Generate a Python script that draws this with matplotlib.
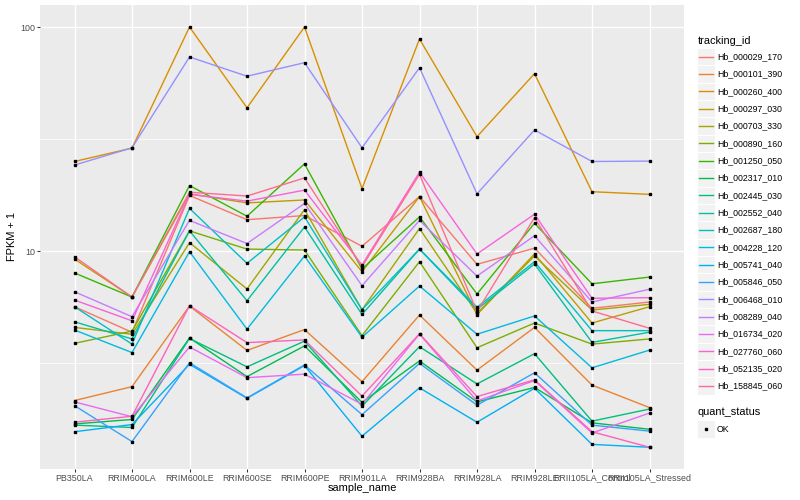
import matplotlib
matplotlib.use("Agg")
import matplotlib.pyplot as plt
from matplotlib.lines import Line2D
from matplotlib.patches import Rectangle
from matplotlib.ticker import NullFormatter
import numpy as np

plt.rcParams['font.family'] = ['Liberation Sans', 'DejaVu Sans']

samples = ["PB350LA", "RRIM600LA", "RRIM600LE", "RRIM600SE", "RRIM600PE",
           "RRIM901LA", "RRIM928BA", "RRIM928LA", "RRIM928LE",
           "RRII105LA_Control", "RRII105LA_Stressed"]

tracking_ids = ["Hb_000029_170", "Hb_000101_390", "Hb_000260_400", "Hb_000297_030",
                "Hb_000703_330", "Hb_000890_160", "Hb_001250_050", "Hb_002317_010",
                "Hb_002445_030", "Hb_002552_040", "Hb_002687_180", "Hb_004228_120",
                "Hb_005741_040", "Hb_005846_050", "Hb_006468_010", "Hb_008289_040",
                "Hb_016734_020", "Hb_027760_060", "Hb_052135_020", "Hb_158845_060"]

# FPKM + 1 values, one list per gene (order = samples)
hb_000029_170 = [5.64, 4.34, 17.7, 13.8, 14.4, 10.5, 17.5, 8.72, 10.3, 5.55, 5.92]
hb_000101_390 = [2.15, 2.48, 5.68, 3.60, 4.46, 2.61, 5.18, 2.94, 4.56, 2.52, 2.00]
hb_000260_400 = [25.1, 28.8, 100.0, 43.6, 100.0, 19.0, 88.4, 32.4, 61.9, 18.4, 17.9]
hb_000297_030 = [9.21, 6.23, 18.0, 16.4, 16.9, 8.08, 17.5, 5.20, 9.70, 4.77, 5.64]
hb_000703_330 = [4.56, 4.25, 10.9, 6.77, 15.3, 5.47, 12.6, 5.27, 9.50, 5.45, 5.78]
hb_000890_160 = [3.87, 4.39, 12.3, 10.2, 10.1, 4.19, 8.96, 3.70, 4.77, 3.84, 4.05]
hb_001250_050 = [7.98, 6.23, 19.6, 14.3, 24.5, 8.31, 14.2, 6.43, 13.3, 7.14, 7.65]
hb_002317_010 = [1.69, 1.77, 4.09, 2.75, 3.77, 2.11, 3.23, 2.12, 2.46, 1.71, 1.60]
hb_002445_030 = [1.67, 1.63, 4.07, 3.04, 3.96, 2.03, 3.74, 2.55, 3.48, 1.74, 1.97]
hb_002552_040 = [4.83, 4.05, 12.3, 6.00, 12.8, 5.21, 10.2, 5.49, 8.75, 3.91, 4.34]
hb_002687_180 = [5.64, 3.84, 15.5, 8.81, 14.2, 5.47, 10.2, 5.61, 8.96, 4.41, 4.41]
hb_004228_120 = [4.44, 3.52, 9.93, 4.48, 9.50, 4.12, 6.98, 4.25, 5.13, 3.01, 3.61]
hb_005741_040 = [1.56, 1.68, 3.12, 2.20, 3.08, 1.49, 2.45, 1.72, 2.44, 1.37, 1.33]
hb_005846_050 = [2.04, 1.41, 3.17, 2.21, 3.10, 1.86, 3.15, 2.05, 2.86, 1.67, 1.57]
hb_006468_010 = [24.2, 28.9, 73.5, 60.3, 69.3, 28.9, 65.8, 18.0, 34.7, 25.1, 25.2]
hb_008289_040 = [6.58, 5.09, 13.7, 10.8, 16.3, 7.00, 13.7, 7.73, 11.7, 5.92, 6.75]
hb_016734_020 = [2.12, 1.82, 3.73, 2.72, 2.82, 2.07, 4.26, 2.14, 2.64, 1.54, 1.89]
hb_027760_060 = [6.04, 4.88, 17.9, 16.7, 18.7, 8.66, 22.5, 9.70, 14.6, 6.15, 6.19]
hb_052135_020 = [1.72, 1.83, 5.70, 3.90, 4.01, 2.25, 4.27, 2.24, 2.66, 1.56, 1.33]
hb_158845_060 = [9.43, 6.23, 18.3, 17.6, 21.2, 8.51, 22.0, 5.36, 14.1, 5.40, 4.52]

series = [hb_000029_170, hb_000101_390, hb_000260_400, hb_000297_030, hb_000703_330,
          hb_000890_160, hb_001250_050, hb_002317_010, hb_002445_030, hb_002552_040,
          hb_002687_180, hb_004228_120, hb_005741_040, hb_005846_050, hb_006468_010,
          hb_008289_040, hb_016734_020, hb_027760_060, hb_052135_020, hb_158845_060]

quant_levels = ["OK"]

colors = ["#F8766D", "#EA8331", "#D89000", "#C09B00", "#A3A500", "#7CAE00", "#39B600",
          "#00BB4E", "#00BF7D", "#00C1A3", "#00BFC4", "#00BAE0", "#00B0F6", "#35A2FF",
          "#9590FF", "#C77CFF", "#E76BF3", "#FA62DB", "#FF62BC", "#FF6C91"]

W, H = 800, 500
fig = plt.figure(figsize=(W / 100, H / 100), dpi=100)
fig.patch.set_facecolor("white")

pl, pr, pt, pb = 40, 684, 5, 468.7
ax = fig.add_axes([pl / W, 1 - pb / H, (pr - pl) / W, (pb - pt) / H])
ax.set_facecolor("#EBEBEB")
ax.set_yscale("log")
ax.set_ylim(1.067, 125.4)
ax.set_xlim(-0.6, len(samples) - 1 + 0.6)

x = np.arange(len(samples))
for vals, col in zip(series, colors):
    ax.plot(x, vals, color=col, lw=1.0, zorder=3, solid_capstyle="round")
for vals in series:
    ax.plot(x, vals, linestyle="none", marker="s", markersize=2.0,
            color="black", zorder=4)

ax.set_xticks(x)
ax.set_xticklabels(samples)
ax.set_yticks([10, 100])
ax.set_yticklabels(["10", "100"])
ax.set_yticks([10 ** 0.5, 10 ** 1.5], minor=True)
ax.yaxis.set_minor_formatter(NullFormatter())
ax.xaxis.set_minor_locator(matplotlib.ticker.NullLocator())
ax.tick_params(which="minor", length=0)
ax.tick_params(which="major", length=2.0, width=0.75, color="#333333",
               labelcolor="#4D4D4D", labelsize=6.4, pad=1.6)
ax.grid(which="major", color="white", lw=1.0)
ax.grid(which="minor", axis="y", color="white", lw=0.5)
ax.set_axisbelow(True)
for s in ax.spines.values():
    s.set_visible(False)

fig.text(12 / W, 1 - 236.9 / H, "FPKM + 1", rotation=90, ha="center", va="center",
         fontsize=7.9, color="black")
fig.text((pl + pr) / 2 / W, 1 - 488 / H, "sample_name", ha="center", va="center",
         fontsize=7.9, color="black")

# legend: tracking_id
lx = 697.3
key = 17.3
fig.text(lx / W, 1 - 40.7 / H, "tracking_id", ha="left", va="center", fontsize=7.9)
for i, (tid, col) in enumerate(zip(tracking_ids, colors)):
    yc = 56.7 + i * 17.33
    fig.add_artist(Rectangle((lx / W, 1 - (yc + key / 2) / H), key / W, key / H,
                             facecolor="#F2F2F2", edgecolor="white", lw=0.7,
                             transform=fig.transFigure))
    fig.add_artist(Line2D([(lx + 2) / W, (lx + key - 2) / W], [1 - yc / H, 1 - yc / H],
                          color=col, lw=1.0, transform=fig.transFigure))
    fig.text(717 / W, 1 - yc / H, tid, ha="left", va="center", fontsize=6.34)

# legend: quant_status
fig.text(lx / W, 1 - 412.3 / H, "quant_status", ha="left", va="center", fontsize=7.9)
for j, q in enumerate(quant_levels):
    yc = 429 + j * 17.33
    fig.add_artist(Rectangle((lx / W, 1 - (yc + key / 2) / H), key / W, key / H,
                             facecolor="#F2F2F2", edgecolor="white", lw=0.7,
                             transform=fig.transFigure))
    fig.add_artist(Line2D([(lx + key / 2) / W], [1 - yc / H], marker="s", markersize=2.0,
                          color="black", linestyle="none", transform=fig.transFigure))
    fig.text(717 / W, 1 - yc / H, q, ha="left", va="center", fontsize=6.34)

fig.savefig("out.png", dpi=100)
